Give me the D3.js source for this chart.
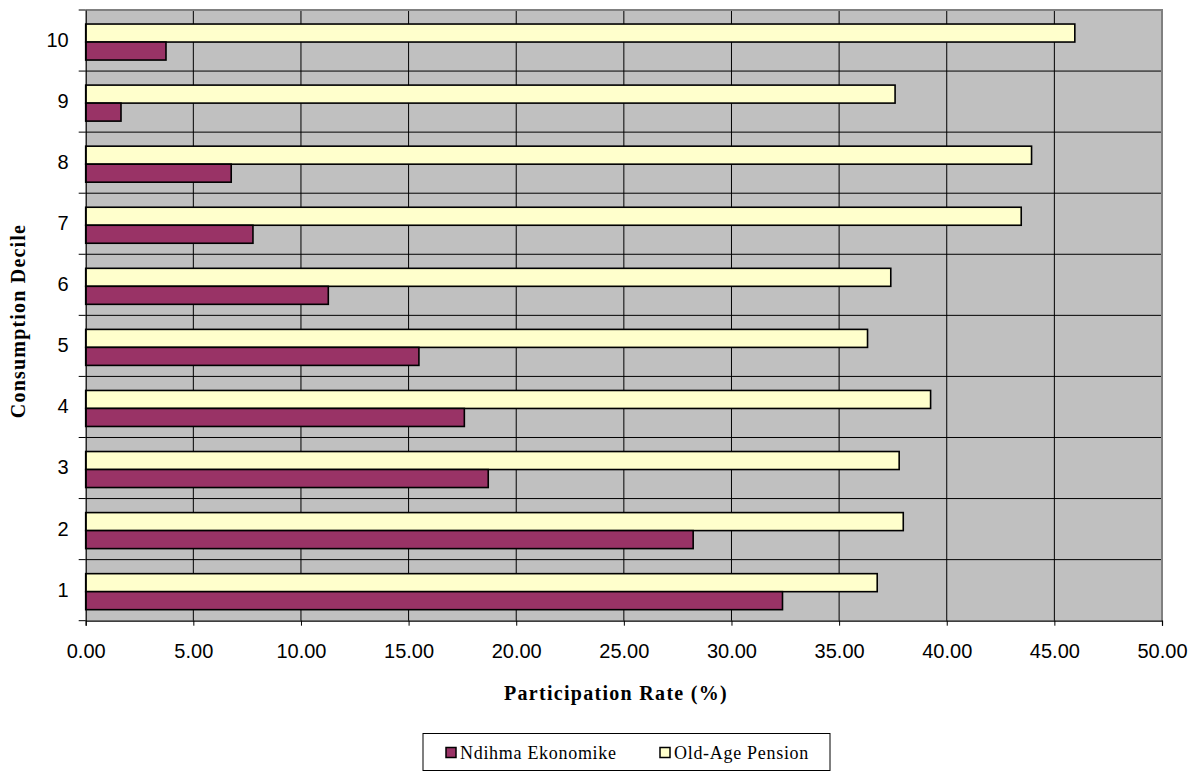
<!DOCTYPE html>
<html>
<head>
<meta charset="utf-8">
<script src="https://cdn.jsdelivr.net/npm/d3@7/dist/d3.min.js"></script>
<style>
  html, body { margin: 0; padding: 0; background: #fff; }
  svg { display: block; }
</style>
</head>
<body>
<svg id="chart" width="1198" height="772"></svg>
<script>
// ---- Data ----
const deciles = ["1", "2", "3", "4", "5", "6", "7", "8", "9", "10"];
const seriesNames = ["Old-Age Pension", "Ndihma Ekonomike"];
const ndihmaEkonomike = [32.37, 28.22, 18.70, 17.59, 15.48, 11.27, 7.77, 6.76, 1.64, 3.73];
const oldAgePension = [36.77, 37.98, 37.79, 39.25, 36.32, 37.40, 43.46, 43.94, 37.60, 45.95];
const xTicks = [0, 5, 10, 15, 20, 25, 30, 35, 40, 45, 50];
const legendOrder = ["Ndihma Ekonomike", "Old-Age Pension"];

const colors = { "Ndihma Ekonomike": "#993366", "Old-Age Pension": "#FFFFCC" };
const values = { "Ndihma Ekonomike": ndihmaEkonomike, "Old-Age Pension": oldAgePension };

const SERIF = "'Liberation Serif', 'Times New Roman', serif";
const SANS = "'Liberation Sans', Arial, sans-serif";

const svg = d3.select("#chart");
const plot = { left: 85.7, right: 1162, top: 10, bottom: 620.7 };

const x = d3.scaleLinear().domain([0, 50]).range([plot.left, plot.right]);
const y0 = d3.scaleBand().domain(deciles.slice().reverse()).range([plot.top, plot.bottom]).padding(0);
const y1 = d3.scaleBand().domain(seriesNames).range([0, y0.bandwidth()])
  .paddingInner(0).paddingOuter(0.696).align(0.56);

// Plot background
svg.append("rect")
  .attr("x", plot.left).attr("y", plot.top)
  .attr("width", plot.right - plot.left).attr("height", plot.bottom - plot.top)
  .attr("fill", "#C0C0C0");

// Vertical gridlines
svg.append("g").selectAll("line")
  .data(xTicks.slice(1, -1))
  .join("line")
  .attr("x1", d => x(d)).attr("x2", d => x(d))
  .attr("y1", plot.top).attr("y2", plot.bottom)
  .attr("stroke", "#000").attr("stroke-width", 1);

// Horizontal gridlines at category boundaries
const boundaries = deciles.slice().reverse().map(d => y0(d)).slice(1);
svg.append("g").selectAll("line")
  .data(boundaries)
  .join("line")
  .attr("x1", plot.left).attr("x2", plot.right)
  .attr("y1", d => d).attr("y2", d => d)
  .attr("stroke", "#000").attr("stroke-width", 1);

// Plot border (top/right gray)
svg.append("path")
  .attr("d", `M${plot.left},${plot.top}H${plot.right}V${plot.bottom}`)
  .attr("fill", "none").attr("stroke", "#808080").attr("stroke-width", 2);

// Bars
const groups = svg.append("g").selectAll("g")
  .data(deciles)
  .join("g")
  .attr("transform", d => `translate(0,${y0(d)})`);

groups.selectAll("rect")
  .data((d, i) => seriesNames.map(s => ({ s, v: values[s][i] })))
  .join("rect")
  .attr("x", x(0))
  .attr("y", d => y1(d.s))
  .attr("width", d => x(d.v) - x(0))
  .attr("height", y1.bandwidth())
  .attr("fill", d => colors[d.s])
  .attr("stroke", "#000")
  .attr("stroke-width", 1.6);

// X axis
const xAxis = d3.axisBottom(x).tickValues(xTicks).tickFormat(d3.format(".2f")).tickSizeOuter(0).tickSize(5).tickPadding(18);
const gx = svg.append("g").attr("transform", `translate(0,${plot.bottom})`).call(xAxis);
gx.attr("font-family", null).attr("font-size", null);
gx.select(".domain").attr("stroke", "#000").attr("stroke-width", 1.2);
gx.selectAll(".tick line").attr("stroke", "#000");
gx.selectAll("text").style("font-family", SANS).style("font-size", "20px").attr("fill", "#000");

// Y axis
const yAxis = d3.axisLeft(y0).tickSize(0).tickPadding(17);
const gy = svg.append("g").attr("transform", `translate(${plot.left},0)`).call(yAxis);
gy.attr("font-family", null).attr("font-size", null);
gy.select(".domain").attr("stroke", "#000").attr("stroke-width", 1.2);
gy.selectAll("text").style("font-family", SANS).style("font-size", "20px").attr("fill", "#000");
// Y ticks at category boundaries
svg.append("g").selectAll("line")
  .data(boundaries.concat([plot.top, plot.bottom]))
  .join("line")
  .attr("x1", plot.left - 7).attr("x2", plot.left)
  .attr("y1", d => d).attr("y2", d => d)
  .attr("stroke", "#000").attr("stroke-width", 1);

// Axis titles
svg.append("text")
  .attr("x", 616).attr("y", 700)
  .attr("text-anchor", "middle")
  .style("font-family", SERIF)
  .style("font-weight", "bold").style("font-size", "20px")
  .style("letter-spacing", "1.3px")
  .attr("fill", "#000")
  .text("Participation Rate (%)");

svg.append("text")
  .attr("transform", `translate(25,321) rotate(-90)`)
  .attr("text-anchor", "middle")
  .style("font-family", SERIF)
  .style("font-weight", "bold").style("font-size", "20px")
  .style("letter-spacing", "1.2px")
  .attr("fill", "#000")
  .text("Consumption Decile");

// Legend
const legend = svg.append("g");
legend.append("rect")
  .attr("x", 423).attr("y", 733.5).attr("width", 407).attr("height", 37)
  .attr("fill", "#fff").attr("stroke", "#000").attr("stroke-width", 1);
const legendX = { "Ndihma Ekonomike": 446, "Old-Age Pension": 660 };
const li = legend.selectAll("g.item").data(legendOrder).join("g").attr("class", "item");
li.append("rect")
  .attr("x", d => legendX[d]).attr("y", 747.5).attr("width", 10).attr("height", 10)
  .attr("fill", d => colors[d]).attr("stroke", "#000").attr("stroke-width", 1.5);
li.append("text")
  .attr("x", d => legendX[d] + 14).attr("y", 759)
  .style("font-family", SERIF)
  .style("font-size", "18px").style("letter-spacing", "0.7px")
  .attr("fill", "#000")
  .text(d => d);
</script>
</body>
</html>
